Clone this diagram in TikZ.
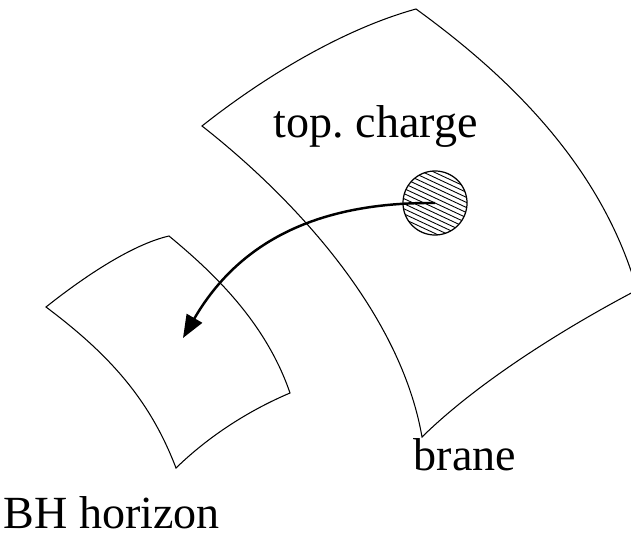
\documentclass[tikz,border=0pt]{standalone}
\usepackage{fontspec}
\setmainfont{Liberation Serif}
\usetikzlibrary{arrows.meta}
\begin{document}
\begin{tikzpicture}[x = 0.01cm, y = -0.01cm, sheet/.style = {line width = 0.3pt, line join = miter}, label/.style = {font = \fontsize{13.1}{15}\selectfont, inner sep = 0pt}]
\useasboundingbox (0,0) rectangle (631,540);
\clip (0,0) rectangle (631,540);
% the brane
\draw[sheet] (202,126) .. controls (260,80) and (340,30) .. (416,9) .. controls (500,70) and (600,160) .. (637,290) .. controls (570,325) and (480,380) .. (422,437) .. controls (400,310) and (290,195) .. cycle;
% the horizon
\draw[sheet] (46,307) .. controls (80,280) and (130,245) .. (169,236) .. controls (210,270) and (265,320) .. (290,393) .. controls (250,410) and (210,435) .. (176,468) .. controls (150,400) and (110,355) .. cycle;
% hatched charge
\coordinate (charge) at (435,203);
\coordinate (hole) at (183,338);
\begin{scope}
\clip (charge) circle [radius = 0.32cm];
\foreach \k in {-8,...,8}
  \draw[line width = 0.25pt, rotate around = {-25:(charge)}] ([shift = {(-50,\k*4.6)}]charge) -- ++(100,0);
\end{scope}
\draw[line width = 0.35pt] (charge) circle [radius = 0.32cm];
\draw[-{Triangle[length = 6.5pt, width = 5pt]}, line width = 0.7pt] (charge) .. controls (320,202) and (240,240) .. (hole);
\node[label, anchor = base west] (charge label) at (273,138) {top.\ charge};
\node[label, anchor = base west] (brane label) at (413,470) {brane};
\node[label, anchor = base west] (horizon label) at (3,528) {BH horizon};
\end{tikzpicture}
\end{document}
